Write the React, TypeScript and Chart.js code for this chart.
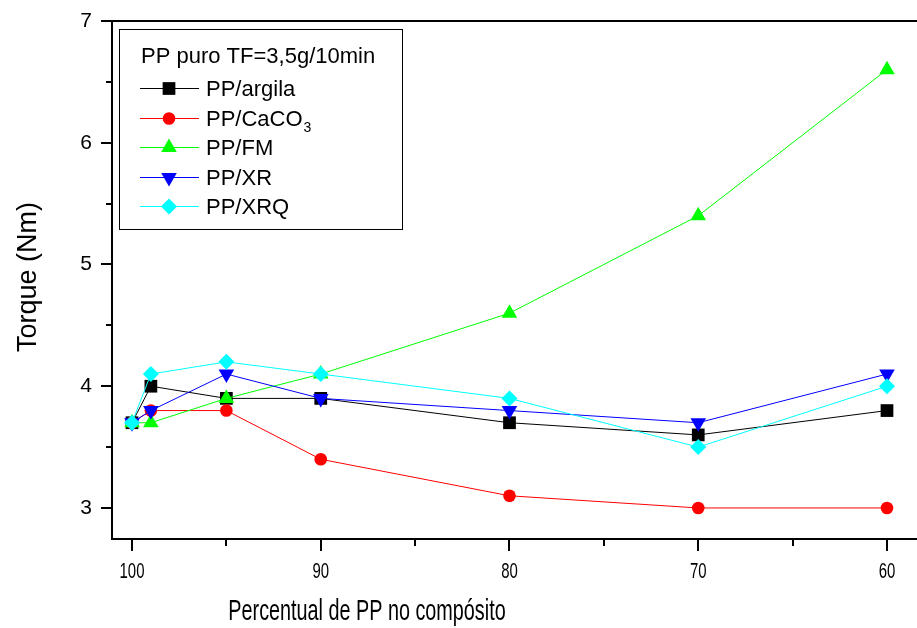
import React, { useEffect, useRef } from 'react';
import { Chart, registerables } from 'chart.js';

Chart.register(...registerables);

// ---- data ----
const xValues = [100, 99, 95, 90, 80, 70, 60];
const argila = [3.7, 4.0, 3.9, 3.9, 3.7, 3.6, 3.8];
const caco3 = [3.7, 3.8, 3.8, 3.4, 3.1, 3.0, 3.0];
const fm = [3.7, 3.7, 3.9, 4.1, 4.6, 5.4, 6.6];
const xr = [3.7, 3.8, 4.1, 3.9, 3.8, 3.7, 4.1];
const xrq = [3.7, 4.1, 4.2, 4.1, 3.9, 3.5, 4.0];

const seriesNames = ['PP/argila', 'PP/CaCO', 'PP/FM', 'PP/XR', 'PP/XRQ'];
const seriesSubscripts = ['', '3', '', '', ''];
const seriesValues = [argila, caco3, fm, xr, xrq];
const seriesColors = ['#000000', '#ff0000', '#00ff00', '#0000ff', '#00ffff'];
const seriesMarkers = ['rect', 'circle', 'triangle', 'triangleDown', 'rectRot'];
const seriesRadius = [9, 6.3, 9, 9, 8];

const xTicks = [100, 95, 90, 85, 80, 75, 70, 65, 60];
const xMajor = [100, 90, 80, 70, 60];
const yTicks = [3, 3.5, 4, 4.5, 5, 5.5, 6, 6.5, 7];
const legendTitle = 'PP puro TF=3,5g/10min';
const xTitle = 'Percentual de PP no compósito';
const yTitle = 'Torque (Nm)';

const FONT = 'Arial, "Liberation Sans", sans-serif';

function drawMarker(ctx: CanvasRenderingContext2D, kind: string, x: number, y: number, r: number, color: string) {
  ctx.save();
  ctx.fillStyle = color;
  ctx.beginPath();
  if (kind === 'rect') {
    const s = r * Math.SQRT1_2;
    ctx.rect(x - s, y - s, 2 * s, 2 * s);
  } else if (kind === 'circle') {
    ctx.arc(x, y, r, 0, Math.PI * 2);
  } else if (kind === 'triangle' || kind === 'triangleDown') {
    const dir = kind === 'triangle' ? 1 : -1;
    let a = 0;
    for (let i = 0; i < 3; i++) {
      const px = x + Math.sin(a) * r;
      const py = y - dir * Math.cos(a) * r;
      if (i === 0) ctx.moveTo(px, py); else ctx.lineTo(px, py);
      a += (2 * Math.PI) / 3;
    }
    ctx.closePath();
  } else if (kind === 'rectRot') {
    ctx.moveTo(x, y - r);
    ctx.lineTo(x + r, y);
    ctx.lineTo(x, y + r);
    ctx.lineTo(x - r, y);
    ctx.closePath();
  }
  ctx.fill();
  ctx.restore();
}

const framePlugin = {
  id: 'frameAndText',
  afterDraw(chart: any) {
    const { ctx, chartArea: a, scales } = chart;
    const xs = scales.x;
    const ys = scales.y;
    ctx.save();
    ctx.strokeStyle = '#000';
    ctx.lineWidth = 2;
    ctx.beginPath();
    ctx.moveTo(a.left, a.top);
    ctx.lineTo(a.left, a.bottom);
    ctx.lineTo(a.right, a.bottom);
    ctx.moveTo(a.left, a.top);
    ctx.lineTo(a.right, a.top);
    // y ticks
    yTicks.forEach((v) => {
      const y = Math.round(ys.getPixelForValue(v));
      const len = Number.isInteger(v) ? 11 : 6;
      ctx.moveTo(a.left - len, y);
      ctx.lineTo(a.left, y);
    });
    // x ticks
    xTicks.forEach((v) => {
      const x = Math.round(xs.getPixelForValue(v));
      const len = xMajor.includes(v) ? 12 : 7;
      ctx.moveTo(x, a.bottom);
      ctx.lineTo(x, a.bottom + len);
    });
    ctx.stroke();

    ctx.fillStyle = '#000';
    // x tick labels (condensed)
    ctx.font = '22px ' + FONT;
    ctx.textAlign = 'center';
    ctx.textBaseline = 'alphabetic';
    xMajor.forEach((v) => {
      const x = xs.getPixelForValue(v);
      ctx.save();
      ctx.translate(x, a.bottom + 39);
      ctx.scale(0.68, 1);
      ctx.fillText(String(v), 0, 0);
      ctx.restore();
    });
    // x title
    ctx.save();
    ctx.font = '30px ' + FONT;
    ctx.translate(367, a.bottom + 81);
    ctx.scale(0.66, 1);
    ctx.fillText(xTitle, 0, 0);
    ctx.restore();
    // y title
    ctx.save();
    ctx.font = '27px ' + FONT;
    ctx.translate(36, (a.top + a.bottom) / 2 - 3);
    ctx.rotate(-Math.PI / 2);
    ctx.fillText(yTitle, 0, 0);
    ctx.restore();

    // legend
    ctx.lineWidth = 1;
    ctx.strokeStyle = '#000';
    ctx.strokeRect(119.5, 29.5, 283, 200);
    ctx.textAlign = 'left';
    ctx.font = '22px ' + FONT;
    ctx.fillText(legendTitle, 141, 63);
    seriesNames.forEach((name, i) => {
      const cy = 88 + i * 29.6;
      ctx.strokeStyle = seriesColors[i];
      ctx.beginPath();
      ctx.moveTo(140, Math.round(cy) + 0.5);
      ctx.lineTo(199, Math.round(cy) + 0.5);
      ctx.stroke();
      drawMarker(ctx, seriesMarkers[i], 169, Math.round(cy) + 0.5, seriesRadius[i], seriesColors[i]);
      ctx.fillStyle = '#000';
      ctx.font = '22px ' + FONT;
      ctx.fillText(name, 206, cy + 8);
      if (seriesSubscripts[i]) {
        const w = ctx.measureText(name).width;
        ctx.font = '14px ' + FONT;
        ctx.fillText(seriesSubscripts[i], 206 + w + 1, cy + 14);
      }
    });
    ctx.restore();
  },
};

export default function App() {
  const canvasRef = useRef<HTMLCanvasElement | null>(null);

  useEffect(() => {
    const canvas = canvasRef.current;
    if (!canvas) return;
    const datasets = seriesNames.map((name, i) => ({
      label: name + seriesSubscripts[i],
      data: xValues.map((x, j) => ({ x, y: seriesValues[i][j] })),
      borderColor: seriesColors[i],
      backgroundColor: seriesColors[i],
      borderWidth: 1,
      pointStyle: seriesMarkers[i] === 'triangleDown' ? 'triangle' : seriesMarkers[i],
      rotation: seriesMarkers[i] === 'triangleDown' ? 180 : 0,
      pointRadius: seriesRadius[i],
      pointBorderWidth: 0,
      pointBackgroundColor: seriesColors[i],
      pointBorderColor: seriesColors[i],
      tension: 0,
      clip: false,
      order: seriesNames.length - i,
    }));
    const chart = new Chart(canvas, {
      type: 'line',
      data: { datasets },
      options: {
        animation: false,
        responsive: false,
        devicePixelRatio: 1,
        layout: { autoPadding: false, padding: { top: 21, right: 0, left: 0, bottom: 0 } },
        plugins: { legend: { display: false }, tooltip: { enabled: false } },
        scales: {
          x: {
            type: 'linear',
            reverse: true,
            min: 58.41,
            max: 101.06,
            grid: { display: false, drawTicks: false },
            border: { display: false },
            ticks: { display: false },
            afterBuildTicks: (scale: any) => {
              scale.ticks = xTicks.map((v) => ({ value: v }));
            },
            afterFit: (scale: any) => {
              scale.height = 89;
              scale.paddingLeft = 0;
              scale.paddingRight = 0;
            },
          },
          y: {
            type: 'linear',
            min: 2.745,
            max: 7,
            grid: { display: false, drawTicks: false },
            border: { display: false },
            ticks: {
              color: '#000',
              padding: 20,
              font: { size: 21, family: FONT },
              callback: (v: any) => (Number.isInteger(v) ? String(v) : ''),
            },
            afterBuildTicks: (scale: any) => {
              scale.ticks = yTicks.map((v) => ({ value: v }));
            },
            afterFit: (scale: any) => {
              scale.width = 112;
              scale.paddingTop = 0;
              scale.paddingBottom = 0;
            },
          },
        },
      },
      plugins: [framePlugin],
    } as any);
    return () => chart.destroy();
  }, []);

  return (
    <div style={{ position: 'absolute', left: 0, top: 0, width: 917, height: 628, background: '#fff' }}>
      <canvas ref={canvasRef} width={917} height={628} style={{ display: 'block' }} />
    </div>
  );
}
